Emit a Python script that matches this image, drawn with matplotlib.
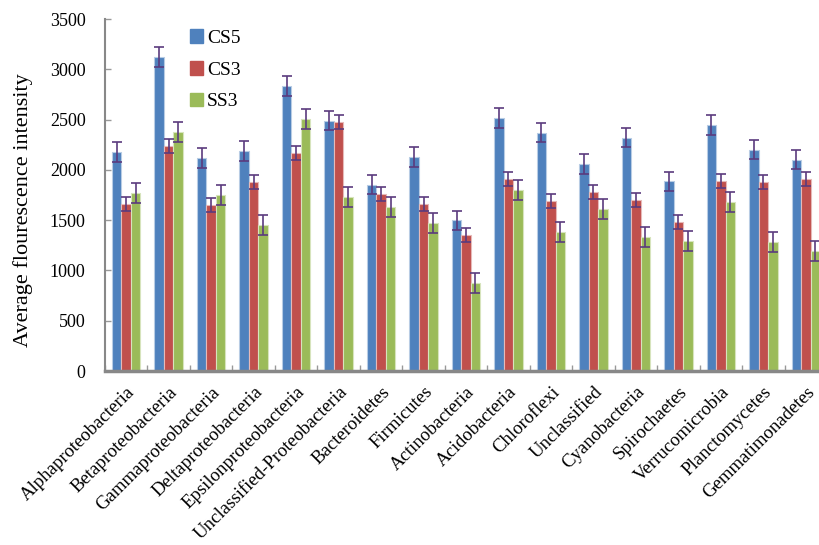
import matplotlib
matplotlib.use("Agg")
import matplotlib.pyplot as plt
import numpy as np
from matplotlib.patches import Patch

categories = ["Alphaproteobacteria", "Betaproteobacteria", "Gammaproteobacteria",
              "Deltaproteobacteria", "Epsilonproteobacteria", "Unclassified-Proteobacteria",
              "Bacteroidetes", "Firmicutes", "Actinobacteria", "Acidobacteria",
              "Chloroflexi", "Unclassified", "Cyanobacteria", "Spirochaetes",
              "Verrucomicrobia", "Planctomycetes", "Gemmatimonadetes"]
cs5 = [2178, 3122, 2118, 2188, 2834, 2490, 1850, 2128, 1500, 2516, 2370, 2058, 2320, 1886, 2446, 2198, 2099]
cs3 = [1661, 2237, 1650, 1879, 2168, 2480, 1760, 1660, 1354, 1912, 1694, 1780, 1697, 1485, 1893, 1882, 1910]
ss3 = [1770, 2376, 1750, 1452, 2506, 1730, 1630, 1470, 873, 1797, 1385, 1607, 1330, 1290, 1678, 1283, 1193]
cs5_err = [95] * 17
cs3_err = [70] * 17
ss3_err = [100] * 17
series = ["CS5", "CS3", "SS3"]
colors = ["#4F81BD", "#C0504D", "#9BBB59"]
edges = ["#B8CCE4", "#E6B9B8", "#D7E4BD"]

plt.rcParams['font.family'] = ['Liberation Serif', 'DejaVu Serif']

fig = plt.figure(figsize=(8.19, 5.45), dpi=100)
ax = fig.add_axes([105/819, 174/545, 722/819, 352/545])

n = len(categories)
x = np.arange(n)
w = 9.5/42.5
for k, (vals, errs, c, e) in enumerate(zip([cs5, cs3, ss3], [cs5_err, cs3_err, ss3_err], colors, edges)):
    ax.bar(x + (k - 1) * w, vals, width=w, color=c, edgecolor=e, linewidth=0.8,
           yerr=errs, error_kw=dict(ecolor="#5B3B7E", elinewidth=1.2, capsize=3.3, capthick=1.2),
           label=series[k], zorder=2)

ax.set_xlim(-0.5, n - 0.5)
ax.set_ylim(0, 3500)
ax.set_yticks(np.arange(0, 3501, 500))
ax.set_xticks(np.arange(n + 1) - 0.5, minor=False)
ax.set_xticklabels([])
ax.set_xticks(x, minor=True)
ax.set_xticklabels(categories, minor=True, rotation=45, ha='right', va='top',
                   rotation_mode='anchor', fontsize=13.5)
ax.tick_params(axis='x', which='minor', length=0, pad=9)
ax.tick_params(axis='x', which='major', direction='in', length=4, color='#999999', width=1)
ax.tick_params(axis='y', direction='in', length=4, color='#999999', width=1, labelsize=13, pad=14)

for s in ['top', 'right']:
    ax.spines[s].set_visible(False)
ax.spines['left'].set_color('#888888')
ax.spines['left'].set_linewidth(1.5)
ax.spines['bottom'].set_color('#888888')
ax.spines['bottom'].set_linewidth(2.5)

ax.set_ylabel("Average flourescence intensity", fontsize=16)
ax.yaxis.set_label_coords(-72/722, (371 - 210) / 352)

handles = [Patch(facecolor=c, edgecolor=c) for c in colors]
ax.legend(handles, series, loc='upper left', bbox_to_anchor=(0.093, 1.02), frameon=False,
          fontsize=14, handlelength=0.7, handleheight=0.7, handletextpad=0.2, labelspacing=0.72)

fig.savefig("out.png", dpi=100)
